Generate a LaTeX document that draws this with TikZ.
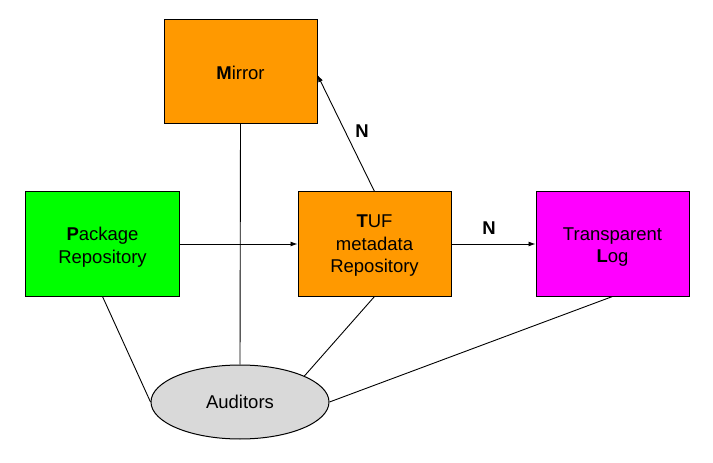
\documentclass[tikz,border=0pt]{standalone}
\usepackage{fontspec}
\setmainfont{Liberation Sans}
\usetikzlibrary{arrows.meta,shapes.geometric}
\definecolor{orangebox}{RGB}{255,153,0}
\definecolor{greenbox}{RGB}{0,255,0}
\definecolor{magentabox}{RGB}{255,0,255}
\definecolor{greyell}{RGB}{217,217,217}
\begin{document}
\begin{tikzpicture}[x=1bp,y=-1bp,
  every node/.style={font=\fontsize{18.5bp}{22.5bp}\selectfont},
  boxnode/.style={draw=black,line width=1bp,minimum width=153bp,minimum height=104bp,inner sep=0pt},
  txt/.style={align=center,inner sep=0pt},
  lbl/.style={font=\fontsize{18.5bp}{22bp}\selectfont\bfseries,inner sep=0pt},
  conn/.style={draw=black,line width=0.9bp},
  arr/.style={conn,-{Latex[length=7bp,width=5bp]}}]
\useasboundingbox (0,0) rectangle (713,463);
\node[boxnode,fill=orangebox] (mirror) at (240.5,71.5) {};
\node[boxnode,fill=greenbox] (pkg) at (102.5,244) {};
\node[boxnode,fill=orangebox] (tuf) at (374.5,244) {};
\node[boxnode,fill=magentabox] (tlog) at (612.5,244) {};
\node[txt] (mirrort) at ([yshift=-1bp]mirror.center) {\textbf{M}irror};
\node[txt] (pkgt) at ([yshift=-3bp]pkg.center) {\textbf{P}ackage\\Repository};
\node[txt] (tuft) at ([yshift=-2bp]tuf.center) {\textbf{T}UF\\metadata\\Repository};
\node[txt] (tlogt) at ([yshift=-3bp]tlog.center) {Transparent\\\textbf{L}og};
\node[draw=black,line width=1bp,fill=greyell,ellipse,minimum width=178bp,minimum height=74bp,inner sep=0pt] (aud) at (240,402) {Auditors};
\draw[arr] (pkg.east) -- (tuf.west);
\draw[arr] (tuf.east) -- (tlog.west);
\node[lbl] (n1) at (489,228) {N};
\coordinate (mirin) at (mirror.east |- 0,75);
\draw[arr] (tuf.north) -- (mirin);
\node[lbl] (n2) at (362,131) {N};
\draw[conn] (mirror.south) -- (aud.north);
\draw[conn] (pkg.south) -- (aud.west);
\draw[conn] (tuf.south) -- (aud.22);
\draw[conn] (tlog.south) -- (aud.east);
\end{tikzpicture}
\end{document}
